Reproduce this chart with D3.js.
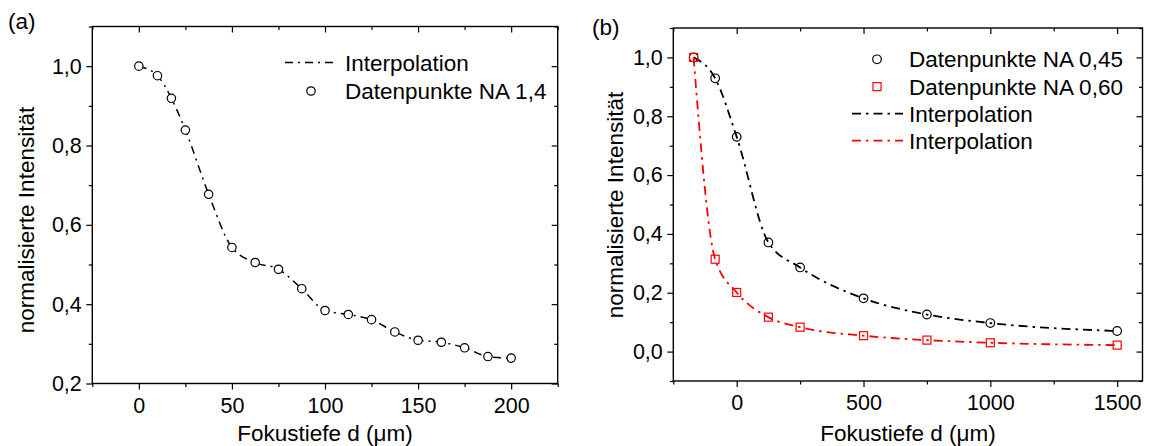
<!DOCTYPE html>
<html>
<head>
<meta charset="utf-8">
<script src="https://cdn.jsdelivr.net/npm/d3@7"></script>
<style>
  body { margin: 0; background: #fff; }
  svg text { font-family: Arial, "Liberation Sans", sans-serif; fill: #000; }
</style>
</head>
<body>
<svg id="chart" width="1150" height="446"></svg>
<script>
// panel (a): NA 1,4
const depthA = [0, 10, 17.5, 25, 37.5, 50, 62.5, 75, 87.5, 100, 112.5, 125, 137.5, 150, 162.5, 175, 187.5, 200];
const intensityA = [1.0, 0.976, 0.919, 0.839, 0.677, 0.543, 0.505, 0.488, 0.439, 0.384, 0.374, 0.361, 0.330, 0.309, 0.304, 0.290, 0.268, 0.264];

// panel (b): NA 0,45 and NA 0,60
const depthB = [-170, -85, 0, 125, 250, 500, 750, 1000, 1500];
const intensity045 = [1.0, 0.929, 0.730, 0.371, 0.286, 0.181, 0.126, 0.097, 0.070];
const intensity060 = [1.0, 0.314, 0.201, 0.117, 0.083, 0.054, 0.039, 0.030, 0.022];

// ticks
const xMajorA = [0, 50, 100, 150, 200];
const xMinorA = [-25, 25, 75, 125, 175, 225];
const yMajorA = [0.2, 0.4, 0.6, 0.8, 1.0];
const yMinorA = [0.3, 0.5, 0.7, 0.9, 1.1];
const xMajorB = [0, 500, 1000, 1500];
const xMinorB = [-250, 250, 750, 1250];
const yMajorB = [0.0, 0.2, 0.4, 0.6, 0.8, 1.0];
const yMinorB = [-0.1, 0.1, 0.3, 0.5, 0.7, 0.9, 1.1];

const xTitle = "Fokustiefe d (\u03bcm)";
const yTitle = "normalisierte Intensit\u00e4t";

const de = d3.formatLocale({decimal: ",", thousands: ".", grouping: [3], currency: ["", "\u20ac"]});
const fmtY = de.format(".1f");
const fmtX = de.format("d");

const svg = d3.select("#chart");
const tickFont = 21.5, textFont = 22.5;

function drawAxes(g, x, y, ticks) {
  const [x0, x1] = x.range();
  const [y0, y1] = y.range();

  // bottom and left: ticks pointing out, with labels
  const bottom = g.append("g").attr("transform", `translate(0,${y0})`)
    .call(d3.axisBottom(x).tickValues(ticks.xMajor).tickSize(6).tickFormat(fmtX));
  bottom.selectAll("text").attr("y", ticks.xLabelY).attr("dy", null).style("font-size", tickFont + "px");
  g.append("g").attr("transform", `translate(0,${y0})`)
    .call(d3.axisBottom(x).tickValues(ticks.xMinor).tickSize(3.5).tickFormat(""));

  const left = g.append("g").attr("transform", `translate(${x0},0)`)
    .call(d3.axisLeft(y).tickValues(ticks.yMajor).tickSize(6).tickPadding(4.5).tickFormat(fmtY));
  left.selectAll("text").style("font-size", tickFont + "px");
  g.append("g").attr("transform", `translate(${x0},0)`)
    .call(d3.axisLeft(y).tickValues(ticks.yMinor).tickSize(3.5).tickFormat(""));

  // top and right: mirrored ticks pointing in
  g.append("g").attr("transform", `translate(0,${y1})`)
    .call(d3.axisTop(x).tickValues(ticks.xMajor).tickSize(-6).tickFormat(""));
  g.append("g").attr("transform", `translate(0,${y1})`)
    .call(d3.axisTop(x).tickValues(ticks.xMinor).tickSize(-3.5).tickFormat(""));
  g.append("g").attr("transform", `translate(${x1},0)`)
    .call(d3.axisRight(y).tickValues(ticks.yMajor).tickSize(-6).tickFormat(""));
  g.append("g").attr("transform", `translate(${x1},0)`)
    .call(d3.axisRight(y).tickValues(ticks.yMinor).tickSize(-3.5).tickFormat(""));

  g.selectAll(".domain").remove();
  g.selectAll(".tick line").attr("stroke", "#000").attr("stroke-width", 1.2);

  g.append("rect")
    .attr("x", x0).attr("y", y1)
    .attr("width", x1 - x0).attr("height", y0 - y1)
    .attr("fill", "none").attr("stroke", "#000").attr("stroke-width", 1.4);

  g.append("text")
    .attr("x", (x0 + x1) / 2).attr("y", 441)
    .attr("text-anchor", "middle")
    .style("font-size", textFont + "px")
    .text(xTitle);
}

// ---------- panel (a) ----------
const xA = d3.scaleLinear().domain([-25, 225]).range([92.3, 557.7]);
const yA = d3.scaleLinear().domain([0.2, 1.1]).range([383.5, 26.5]);
const gA = svg.append("g");

drawAxes(gA, xA, yA, {xMajor: xMajorA, xMinor: xMinorA, yMajor: yMajorA, yMinor: yMinorA, xLabelY: 29.5});

gA.append("text")
  .attr("transform", "translate(34,220) rotate(-90)")
  .attr("text-anchor", "middle")
  .style("font-size", textFont + "px")
  .text(yTitle);

gA.append("text").attr("x", 8).attr("y", 29).style("font-size", textFont + "px").text("(a)");

const pointsA = depthA.map((d, i) => [d, intensityA[i]]);
const lineA = d3.line().x(d => xA(d[0])).y(d => yA(d[1])).curve(d3.curveMonotoneX);

gA.append("path")
  .datum(pointsA)
  .attr("d", lineA)
  .attr("fill", "none")
  .attr("stroke", "#000")
  .attr("stroke-width", 1.5)
  .attr("stroke-dasharray", "8,5,2,5");

gA.selectAll("circle.pt")
  .data(pointsA)
  .enter()
  .append("circle")
  .attr("class", "pt")
  .attr("cx", d => xA(d[0]))
  .attr("cy", d => yA(d[1]))
  .attr("r", 4.2)
  .attr("fill", "#fff")
  .attr("stroke", "#000")
  .attr("stroke-width", 1.2);

// legend (a)
const legA = gA.append("g");
legA.append("line")
  .attr("x1", 285).attr("x2", 336).attr("y1", 62.5).attr("y2", 62.5)
  .attr("stroke", "#000").attr("stroke-width", 1.5).attr("stroke-dasharray", "8,5,2,5");
legA.append("text").attr("x", 345).attr("y", 70.5).style("font-size", textFont + "px").text("Interpolation");
legA.append("circle").attr("cx", 311).attr("cy", 91).attr("r", 4.2)
  .attr("fill", "#fff").attr("stroke", "#000").attr("stroke-width", 1.2);
legA.append("text").attr("x", 345).attr("y", 99).style("font-size", textFont + "px").text("Datenpunkte NA 1,4");

// ---------- panel (b) ----------
const xB = d3.scaleLinear().domain([-250, 1600]).range([673.3, 1142.5]);
const yB = d3.scaleLinear().domain([-0.1, 1.1]).range([381, 28]);
const gB = svg.append("g");

drawAxes(gB, xB, yB, {xMajor: xMajorB, xMinor: xMinorB, yMajor: yMajorB, yMinor: yMinorB, xLabelY: 28.5});

gB.append("text")
  .attr("transform", "translate(623,205) rotate(-90)")
  .attr("text-anchor", "middle")
  .style("font-size", textFont + "px")
  .text(yTitle);

gB.append("text").attr("x", 592).attr("y", 35).style("font-size", textFont + "px").text("(b)");

const series = [
  {values: intensity045, color: "#000", shape: "circle"},
  {values: intensity060, color: "#ff0000", shape: "square"}
];

const lineB = d3.line().x(d => xB(d[0])).y(d => yB(d[1])).curve(d3.curveMonotoneX);

series.forEach(s => {
  const pts = depthB.map((d, i) => [d, s.values[i]]);
  gB.append("path")
    .datum(pts)
    .attr("d", lineB)
    .attr("fill", "none")
    .attr("stroke", s.color)
    .attr("stroke-width", 1.8)
    .attr("stroke-dasharray", "9,5,2.5,5");
});

series.forEach(s => {
  const pts = depthB.map((d, i) => [d, s.values[i]]);
  if (s.shape === "circle") {
    gB.append("g").selectAll("circle")
      .data(pts).enter().append("circle")
      .attr("cx", d => xB(d[0])).attr("cy", d => yB(d[1])).attr("r", 4.3)
      .attr("fill", "none").attr("stroke", s.color).attr("stroke-width", 1.2);
  } else {
    gB.append("g").selectAll("rect")
      .data(pts).enter().append("rect")
      .attr("x", d => xB(d[0]) - 4).attr("y", d => yB(d[1]) - 4)
      .attr("width", 8).attr("height", 8)
      .attr("fill", "none").attr("stroke", s.color).attr("stroke-width", 1.2);
  }
});

// legend (b)
const legB = gB.append("g");
const rowsB = [59.3, 86.6, 113.6, 140.7];
legB.append("circle").attr("cx", 877).attr("cy", rowsB[0]).attr("r", 4.3)
  .attr("fill", "none").attr("stroke", "#000").attr("stroke-width", 1.2);
legB.append("rect").attr("x", 873).attr("y", rowsB[1] - 4).attr("width", 8).attr("height", 8)
  .attr("fill", "none").attr("stroke", "#ff0000").attr("stroke-width", 1.2);
legB.append("line").attr("x1", 852).attr("x2", 903).attr("y1", rowsB[2]).attr("y2", rowsB[2])
  .attr("stroke", "#000").attr("stroke-width", 1.8).attr("stroke-dasharray", "9,5,2.5,5");
legB.append("line").attr("x1", 852).attr("x2", 903).attr("y1", rowsB[3]).attr("y2", rowsB[3])
  .attr("stroke", "#ff0000").attr("stroke-width", 1.8).attr("stroke-dasharray", "9,5,2.5,5");
const labelsB = ["Datenpunkte NA 0,45", "Datenpunkte NA 0,60", "Interpolation", "Interpolation"];
legB.selectAll("text.lab")
  .data(labelsB).enter().append("text")
  .attr("class", "lab")
  .attr("x", 909)
  .attr("y", (d, i) => rowsB[i] + 8)
  .style("font-size", textFont + "px")
  .text(d => d);
</script>
</body>
</html>
